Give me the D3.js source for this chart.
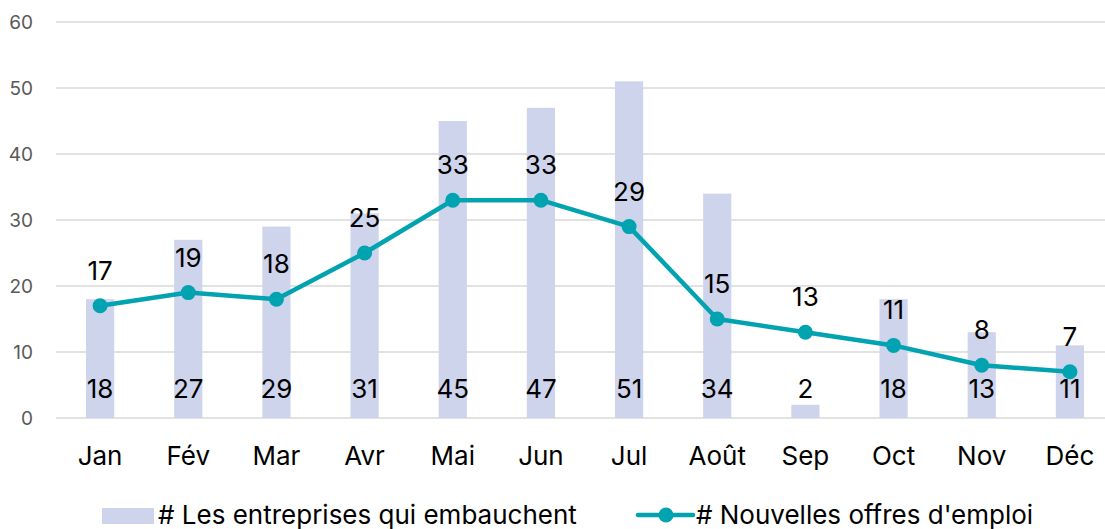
<!DOCTYPE html>
<html><head><meta charset="utf-8">
<script src="https://cdn.jsdelivr.net/npm/d3@7"></script>
<style>body{margin:0;background:#fff;} svg{display:block;font-family:Inter, "Open Sans", sans-serif;}</style>
</head><body>
<svg id="c" width="1105" height="529"></svg>
<script>
const months = ["Jan","Fév","Mar","Avr","Mai","Jun","Jul","Août","Sep","Oct","Nov","Déc"];
const entreprises = [18,27,29,31,45,47,51,34,2,18,13,11];
const offres = [17,19,18,25,33,33,29,15,13,11,8,7];
const yTicks = [0,10,20,30,40,50,60];
const seriesNames = ["# Les entreprises qui embauchent","# Nouvelles offres d'emploi"];

const svg = d3.select("#c");
const x = d3.scaleBand().domain(months).range([56,1114]).paddingInner(0.68).paddingOuter(0.34);
const y = d3.scaleLinear().domain([0,60]).range([418,22]);
const barColor = "#CED4EC", lineColor = "#00A3AF";
const fs = 26;

// grid
svg.append("g").selectAll("line").data(yTicks).join("line")
  .attr("x1",56).attr("x2",1114).attr("y1",d=>y(d)).attr("y2",d=>y(d))
  .attr("stroke","#D9D9D9").attr("stroke-width",1.5);
// y labels
svg.append("g").selectAll("text").data(yTicks).join("text")
  .attr("x",33).attr("y",d=>y(d)).attr("dy","0.35em").attr("text-anchor","end")
  .attr("fill","#595959").attr("font-size",19).text(d=>d);

// bars
svg.append("g").selectAll("rect").data(entreprises).join("rect")
  .attr("x",(d,i)=>x(months[i])).attr("width",x.bandwidth())
  .attr("y",d=>y(d)).attr("height",d=>y(0)-y(d)).attr("fill",barColor);

// bar labels
svg.append("g").selectAll("text").data(entreprises).join("text")
  .attr("x",(d,i)=>x(months[i])+x.bandwidth()/2).attr("y",398).attr("text-anchor","middle")
  .attr("font-size",fs).attr("fill","#000").text(d=>d);

// line
const cx = i => x(months[i])+x.bandwidth()/2;
svg.append("path").datum(offres)
  .attr("d", d3.line().x((d,i)=>cx(i)).y(d=>y(d)))
  .attr("fill","none").attr("stroke",lineColor).attr("stroke-width",4.5).attr("stroke-linejoin","round");
svg.append("g").selectAll("circle").data(offres).join("circle")
  .attr("cx",(d,i)=>cx(i)).attr("cy",d=>y(d)).attr("r",7.5).attr("fill",lineColor);
svg.append("g").selectAll("text").data(offres).join("text")
  .attr("x",(d,i)=>cx(i)).attr("y",d=>y(d)-26).attr("text-anchor","middle")
  .attr("font-size",fs).attr("fill","#000").text(d=>d);

// x labels
svg.append("g").selectAll("text").data(months).join("text")
  .attr("x",(d,i)=>cx(i)).attr("y",465).attr("text-anchor","middle")
  .attr("font-size",fs).attr("fill","#000").text(d=>d);

// legend
const lg = svg.append("g");
lg.append("rect").attr("x",102).attr("y",508).attr("width",52).attr("height",16).attr("fill",barColor);
lg.append("text").attr("x",158).attr("y",524).attr("font-size",fs).attr("fill","#000").text(seriesNames[0]);
lg.append("line").attr("x1",638).attr("x2",693).attr("y1",515).attr("y2",515).attr("stroke",lineColor).attr("stroke-width",4.5).attr("stroke-linecap","round");
lg.append("circle").attr("cx",666).attr("cy",515).attr("r",7.5).attr("fill",lineColor);
lg.append("text").attr("x",696).attr("y",524).attr("font-size",fs).attr("fill","#000").text(seriesNames[1]);
</script>
</body></html>
